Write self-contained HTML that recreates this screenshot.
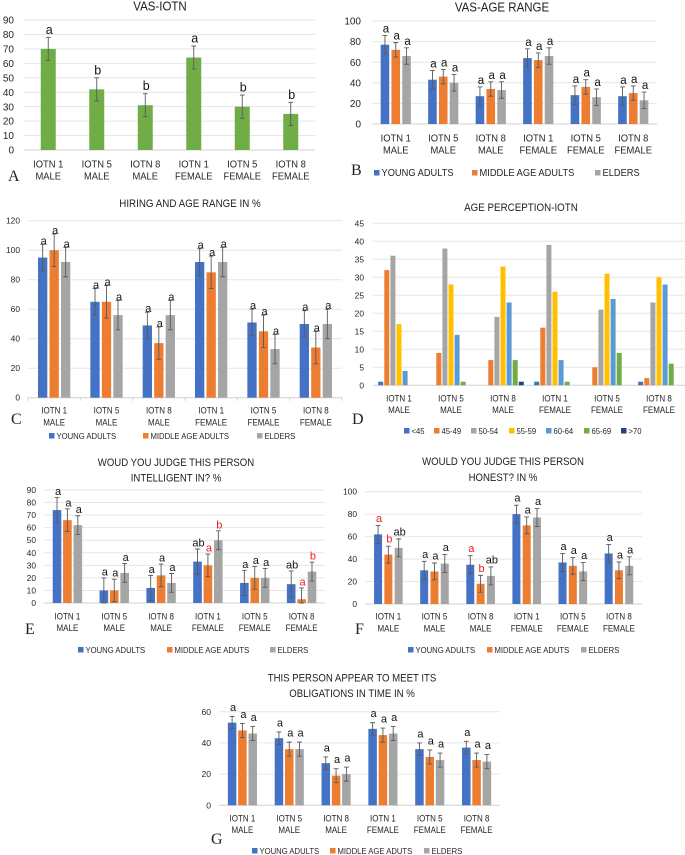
<!DOCTYPE html>
<html lang="en">
<head>
<meta charset="utf-8">
<title>Age perception and IOTN charts</title>
<style>
  html, body { margin: 0; padding: 0; background: #fff; }
  body { width: 685px; height: 855px; overflow: hidden; }
  svg { display: block; filter: blur(0.35px); font-family: "Liberation Sans", sans-serif; }
</style>
</head>
<body>
<svg id="figure" width="685" height="855" viewBox="0 0 685 855" xmlns="http://www.w3.org/2000/svg"></svg>
<script>
// ---------- Shared categories ----------
const categories = [["IOTN 1","MALE"],["IOTN 5","MALE"],["IOTN 8","MALE"],["IOTN 1","FEMALE"],["IOTN 5","FEMALE"],["IOTN 8","FEMALE"]];

// ---------- Panel A ----------
const aTicks = [0,10,20,30,40,50,60,70,80,90];
const aValues = [70,42,31,64,30,25];
const aErrors = [8,8,8,8,8,8];
const aLetters = ["a","b","b","a","b","b"];

// ---------- Panel B ----------
const bTicks = [0,20,40,60,80,100];
const bYoung = [77,43,27,64,28,27];
const bMiddle = [72,46,34,62,36,30];
const bElders = [66,40,33,66,26,23];
const bYoungErr = [9,9,9,9,9,9];
const bMiddleErr = [7,7,7,7,7,7];
const bEldersErr = [8,8,8,8,8,8];
const bLetters = ["a","a","a","a","a","a"];

// ---------- Panel C ----------
const cTicks = [0,20,40,60,80,100,120];
const cYoung = [95,65,49,92,51,50];
const cMiddle = [100,65,37,85,45,34];
const cElders = [92,56,56,92,33,50];
const cYoungErr = [9,9,9,9,9,9];
const cMiddleErr = [11,11,11,11,11,11];
const cEldersErr = [10,10,10,10,10,10];
const cLetters = ["a","a","a","a","a","a"];

// ---------- Panel D ----------
const dTicks = [0,5,10,15,20,25,30,35,40,45];
const dUnder45 = [1,0,0,1,0,1];
const d45to49 = [32,9,7,16,5,2];
const d50to54 = [36,38,19,39,21,23];
const d55to59 = [17,28,33,26,31,30];
const d60to64 = [4,14,23,7,24,28];
const d65to69 = [0,1,7,1,9,6];
const dOver70 = [0,0,1,0,0,0];

// ---------- Panel E ----------
const eTicks = [0,10,20,30,40,50,60,70,80,90];
const eYoung = [74,10,12,33,16,15];
const eMiddle = [66,10,22,30,20,3];
const eElders = [62,24,16,50,20,25];
const eYoungErr = [10,10,10,10,10,10.5];
const eMiddleErr = [9,9,9,9,9,9];
const eEldersErr = [7.5,7.5,7.5,7.5,7.5,7.5];
const eYoungLetters = ["a","a","a","ab","a","ab"];
const eMiddleLetters = ["a","a","a","a","a","a"];
const eEldersLetters = ["a","a","a","b","a","b"];
const eYoungRed = [];
const eMiddleRed = [3,5];
const eEldersRed = [3,5];

// ---------- Panel F ----------
const fTicks = [0,20,40,60,80,100];
const fYoung = [62,30,35,80,37,45];
const fMiddle = [44,29,18,70,34,30];
const fElders = [50,36,25,77,29,34];
const fYoungErr = [8,8,8,8,8,8];
const fMiddleErr = [7.5,7.5,7.5,7.5,7.5,7.5];
const fEldersErr = [8,8,8,8,8,8];
const fYoungLetters = ["a","a","a","a","a","a"];
const fMiddleLetters = ["b","a","b","a","a","a"];
const fEldersLetters = ["ab","a","ab","a","a","a"];
const fYoungRed = [0,2];
const fMiddleRed = [0,2];
const fEldersRed = [];

// ---------- Panel G ----------
const gTicks = [0,20,40,60];
const gYoung = [53,43,27,49,36,37];
const gMiddle = [48,36,19,45,31,29];
const gElders = [46,36,20,46,29,28];
const gYoungErr = [4,4,4,4,4,4];
const gMiddleErr = [4.5,4.5,4.5,4.5,4.5,4.5];
const gEldersErr = [4.5,4.5,4.5,4.5,4.5,4.5];
const gLetters = ["a","a","a","a","a","a"];

// ---------- Colours ----------
const BLUE = "#4472c4", ORANGE = "#ed7d31", GRAY = "#a5a5a5", GREEN = "#70ad47",
      YELLOW = "#ffc000", SKY = "#5b9bd5", NAVY = "#264478", TEXT = "#262626";

const three = (young, middle, elders, yE, mE, eE, yL, mL, eL, yR, mR, eR) => [
  { key: "young", color: BLUE, values: young, errors: yE, letters: yL, red: yR || [] },
  { key: "middle", color: ORANGE, values: middle, errors: mE, letters: mL, red: mR || [] },
  { key: "elders", color: GRAY, values: elders, errors: eE, letters: eL, red: eR || [] }
];

const panels = [
  { id: "a", panel: "A", title: ["VAS-IOTN"], titleX: 160, titleY: [10.5], titleSize: 11.5,
    left: 24, right: 315, top: 20, base: 150, ticks: aTicks, tickEnd: 14, tickSize: 10,
    catY: [167.5, 179.5], catSize: 9.4, barW: 15, step: 0, letterGap: 3.5, letterSize: 12.5,
    series: [{ key: "score", color: GREEN, values: aValues, errors: aErrors, letters: aLetters, red: [] }],
    legend: [], legendY: 0, legendSize: 0, panelX: 8, panelY: 181 },
  { id: "b", panel: "B", title: ["VAS-AGE RANGE"], titleX: 502, titleY: [11.5], titleSize: 11.5,
    left: 372, right: 657, top: 21, base: 124, ticks: bTicks, tickEnd: 361, tickSize: 10,
    catY: [141.5, 153.5], catSize: 9.4, barW: 8.6, step: 10.8, letterGap: 3, letterSize: 11.5,
    series: three(bYoung, bMiddle, bElders, bYoungErr, bMiddleErr, bEldersErr, bLetters, bLetters, bLetters),
    legend: [["YOUNG ADULTS", BLUE, 374], ["MIDDLE AGE ADULTS", ORANGE, 472], ["ELDERS", GRAY, 595]],
    legendY: 176, legendSize: 9.3, panelX: 351, panelY: 175 },
  { id: "c", panel: "C", title: ["HIRING AND AGE RANGE IN %"], titleX: 190, titleY: [207], titleSize: 9.8,
    left: 28, right: 342, top: 220.7, base: 397.7, ticks: cTicks, tickEnd: 20, tickSize: 8.4,
    catY: [413.5, 425.5], catSize: 8, barW: 9.3, step: 11.5, letterGap: 0, letterSize: 11, catTicks: true,
    series: three(cYoung, cMiddle, cElders, cYoungErr, cMiddleErr, cEldersErr, cLetters, cLetters, cLetters),
    legend: [["YOUNG ADULTS", BLUE, 49], ["MIDDLE AGE ADULTS", ORANGE, 143], ["ELDERS", GRAY, 257]],
    legendY: 439, legendSize: 7.7, panelX: 11, panelY: 424 },
  { id: "d", panel: "D", title: ["AGE PERCEPTION-IOTN"], titleX: 521, titleY: [211], titleSize: 9.8,
    left: 373, right: 685, top: 223.3, base: 385.3, ticks: dTicks, tickEnd: 364, tickSize: 8.4,
    catY: [401.5, 413], catSize: 8, barW: 5, step: 6.1, letterGap: 0, letterSize: 0,
    series: [
      { key: "under-45", color: BLUE, values: dUnder45 },
      { key: "45-49", color: ORANGE, values: d45to49 },
      { key: "50-54", color: GRAY, values: d50to54 },
      { key: "55-59", color: YELLOW, values: d55to59 },
      { key: "60-64", color: SKY, values: d60to64 },
      { key: "65-69", color: GREEN, values: d65to69 },
      { key: "over-70", color: NAVY, values: dOver70 }
    ],
    legend: [["<45", BLUE, 404], ["45-49", ORANGE, 434], ["50-54", GRAY, 471], ["55-59", YELLOW, 509], ["60-64", SKY, 546], ["65-69", GREEN, 584], [">70", NAVY, 621]],
    legendY: 434, legendSize: 7.7, panelX: 352, panelY: 424 },
  { id: "e", panel: "E", title: ["WOUD YOU JUDGE THIS PERSON", "INTELLIGENT IN? %"], titleX: 176, titleY: [466, 481.5], titleSize: 9.6,
    left: 44, right: 325, top: 490, base: 603, ticks: eTicks, tickEnd: 36, tickSize: 8.4,
    catY: [619.5, 631], catSize: 8, barW: 8.6, step: 10.4, letterGap: 2.5, letterSize: 11,
    series: three(eYoung, eMiddle, eElders, eYoungErr, eMiddleErr, eEldersErr, eYoungLetters, eMiddleLetters, eEldersLetters, eYoungRed, eMiddleRed, eEldersRed),
    legend: [["YOUNG ADULTS", BLUE, 78], ["MIDDLE AGE ADUTS", ORANGE, 167], ["ELDERS", GRAY, 270]],
    legendY: 653, legendSize: 7.7, panelX: 25, panelY: 634 },
  { id: "f", panel: "F", title: ["WOULD YOU JUDGE THIS PERSON", "HONEST? IN %"], titleX: 503, titleY: [465, 481], titleSize: 9.6,
    left: 365.3, right: 642, top: 491.7, base: 604, ticks: fTicks, tickEnd: 357, tickSize: 8.4,
    catY: [619.5, 631.5], catSize: 8, barW: 8, step: 10.3, letterGap: 3.5, letterSize: 11,
    series: three(fYoung, fMiddle, fElders, fYoungErr, fMiddleErr, fEldersErr, fYoungLetters, fMiddleLetters, fEldersLetters, fYoungRed, fMiddleRed, fEldersRed),
    legend: [["YOUNG ADULTS", BLUE, 408], ["MIDDLE AGE ADUTS", ORANGE, 487], ["ELDERS", GRAY, 581]],
    legendY: 653, legendSize: 7.7, panelX: 355, panelY: 634 },
  { id: "g", panel: "G", title: ["THIS PERSON APPEAR TO MEET ITS", "OBLIGATIONS IN TIME  IN %"], titleX: 352, titleY: [681.5, 697], titleSize: 9.6,
    left: 219, right: 500, top: 711.7, base: 805.3, ticks: gTicks, tickEnd: 211, tickSize: 8.6,
    catY: [821.5, 833], catSize: 8, barW: 8.5, step: 10.3, letterGap: 5.5, letterSize: 11,
    series: three(gYoung, gMiddle, gElders, gYoungErr, gMiddleErr, gEldersErr, gLetters, gLetters, gLetters),
    legend: [["YOUNG ADULTS", BLUE, 252], ["MIDDLE AGE ADUTS", ORANGE, 330], ["ELDERS", GRAY, 424]],
    legendY: 854, legendSize: 7.7, panelX: 211, panelY: 844 }
];

const SVG_NS = "http://www.w3.org/2000/svg";
const NARROW = 1.12; // taller glyphs, same width: approximates the narrower typeface of the original
function make(tag, attrs, parent) {
  const node = document.createElementNS(SVG_NS, tag);
  for (const k in attrs) node.setAttribute(k, attrs[k]);
  parent.appendChild(node);
  return node;
}
function label(parent, str, x, y, size, anchor, fill) {
  const t = make("text", { x: x, y: y, "font-size": size, "text-anchor": anchor, fill: fill }, parent);
  t.textContent = str;
  return t;
}
function narrowLabel(parent, str, x, y, size, anchor, fill) {
  const t = label(parent, str, x, y, size * NARROW, anchor, fill);
  const width = t.getComputedTextLength();
  t.setAttribute("textLength", (width / NARROW).toFixed(2));
  t.setAttribute("lengthAdjust", "spacingAndGlyphs");
  return t;
}

const root = document.getElementById("figure");

panels.forEach(p => {
  const g = make("g", {}, root);
  
  

  const maxTick = p.ticks[p.ticks.length - 1];
  const yScale = v => p.base - (v / maxTick) * (p.base - p.top);
  const groupW = (p.right - p.left) / categories.length;
  const xCenter = i => p.left + groupW * (i + 0.5);

  // title
  p.title.forEach((line, i) => {
    const t = narrowLabel(g, line, p.titleX, p.titleY[i], p.titleSize, "middle", "#1f1f1f");
    
    
  });

  // gridlines and y ticks
  p.ticks.forEach(v => {
    const line = make("line", { x1: p.left, x2: p.right, y1: yScale(v), y2: yScale(v), stroke: v === 0 ? "#d0d0d0" : "#e6e6e6", "stroke-width": 1 }, g);
    
    
    const t = label(g, String(v), p.tickEnd, yScale(v) + p.tickSize * 0.36, p.tickSize, "end", TEXT);
    
    
  });

  // category separators
  if (p.catTicks) {
    for (let i = 0; i <= categories.length; i++) {
      const x = p.left + groupW * i;
      const tick = make("line", { x1: x, x2: x, y1: p.base, y2: p.base + 3, stroke: "#d0d0d0", "stroke-width": 1 }, g);
      
      
    }
  }

  // category labels
  categories.forEach((cat, i) => {
    cat.forEach((line, j) => {
      const t = narrowLabel(g, line, xCenter(i), p.catY[j], p.catSize, "middle", TEXT);
      
      
    });
  });

  // bars, error bars, significance letters
  const n = p.series.length;
  p.series.forEach((s, si) => {
    s.values.forEach((v, i) => {
      const cx = xCenter(i) + (si - (n - 1) / 2) * p.step;
      if (v > 0) {
        const bar = make("rect", { x: cx - p.barW / 2, y: yScale(v), width: p.barW, height: p.base - yScale(v), fill: s.color }, g);
        
        
      }
      if (s.errors) {
        const err = s.errors[i];
        const top = yScale(v + err), low = yScale(Math.max(v - err, 0));
        const eb = make("path", {
          d: "M" + cx + " " + top + "V" + low + "M" + (cx - 2.4) + " " + top + "H" + (cx + 2.4) + "M" + (cx - 2.4) + " " + low + "H" + (cx + 2.4),
          stroke: "#5a5a5a", "stroke-width": 0.9, fill: "none"
        }, g);
        
        
        if (s.letters) {
          const color = s.red.indexOf(i) >= 0 ? "#f01c24" : "#151515";
          const t = label(g, s.letters[i], cx + 1, top - p.letterGap, p.letterSize, "middle", color);
          
          
        }
      }
    });
  });

  // legend
  p.legend.forEach(item => {
    const sq = make("rect", { x: item[2], y: p.legendY - 6, width: 5.5, height: 5.5, fill: item[1] }, g);
    
    
    const t = narrowLabel(g, item[0], item[2] + 7.5, p.legendY, p.legendSize, "start", TEXT);
    
    
  });

  // panel letter
  const pl = make("text", { x: p.panelX, y: p.panelY, "font-size": 16, fill: "#222", style: 'font-family:"Liberation Serif",serif' }, g);
  pl.textContent = p.panel;
  
  
});
</script>
</body>
</html>
